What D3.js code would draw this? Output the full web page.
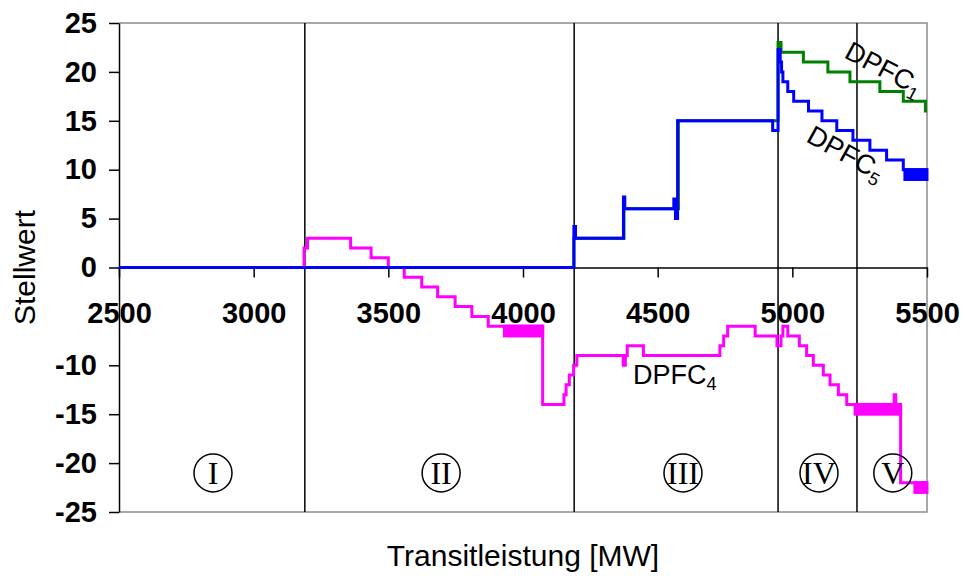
<!DOCTYPE html>
<html>
<head>
<meta charset="utf-8">
<script src="https://cdn.jsdelivr.net/npm/d3@7"></script>
<style>
  html, body { margin: 0; padding: 0; background: #fff; }
  svg { display: block; }
  text { font-family: "Liberation Sans", Arial, sans-serif; }
</style>
</head>
<body>
<svg id="chart" width="963" height="576"></svg>
<script>
// Step series: each point [MW, value] holds until the next point.
const dpfc1 = [[2500,0],[4189,3],[4375,6],[4577,15],[4947,23],[4958,22],[5041,21],[5132,20],[5214,19],[5325,18],[5412,17],[5494,16],[5500,16]];
const dpfc5 = [[2500,0],[4189,4.2],[4195,3],[4373,7.2],[4378,6],[4560,7],[4566,5],[4574,15],[4927,14],[4947,22.3],[4955,21],[4960,20],[4965,19],[4983,18],[5005,17],[5060,16],[5110,15],[5165,14],[5225,13],[5288,12],[5350,11],[5412,10],[5500,10]];
const dpfc4 = [[2500,0],[3187,2],[3200,3],[3360,2],[3436,1],[3500,0],[3559,-1],[3624,-2],[3683,-3],[3748,-4],[3810,-5],[3871,-6],[4073,-14],[4152,-13],[4160,-12],[4172,-11],[4188,-10],[4200,-9],[4372,-10],[4380,-9],[4387,-8],[4447,-9],[4731,-8],[4745,-7],[4760,-6],[4862,-7],[4943,-8],[4958,-7],[4965,-6],[4983,-7],[5026,-8],[5053,-9],[5078,-10],[5115,-11],[5140,-12],[5171,-13],[5202,-14],[5378,-13],[5384,-14],[5402,-22],[5500,-22]];

// Ranges where the controller toggles quickly between two settings: [from, to, low, high]
const dpfc5Bands = [[5418,5500,9,10]];
const dpfc4Bands = [[3931,4073,-7,-6],[5233,5402,-15,-14],[5455,5500,-23,-22]];

// Operating regions
const regionBounds = [3190, 4190, 4947, 5240];
const regionNames = ["I", "II", "III", "IV", "V"];
const regionCenters = [2849, 3696, 4594, 5099, 5373];

const xTicks = [2500, 3000, 3500, 4000, 4500, 5000, 5500];
const yTicks = [25, 20, 15, 10, 5, 0, -10, -15, -20, -25];

const svg = d3.select("#chart");
const x = d3.scaleLinear().domain([2500, 5500]).range([119, 927]);
const y = d3.scaleLinear().domain([-25, 25]).range([512, 23]);

// frame (top, right, bottom)
svg.append("path")
  .attr("d", `M${x(2500)},${y(25)}H${x(5500)}V${y(-25)}H${x(2500)}`)
  .attr("fill", "none").attr("stroke", "#8c8c8c").attr("stroke-width", 1.5);

// region separators
svg.selectAll("line.region").data(regionBounds).join("line")
  .attr("class", "region")
  .attr("x1", d => x(d)).attr("x2", d => x(d))
  .attr("y1", y(25)).attr("y2", y(-25))
  .attr("stroke", "#000").attr("stroke-width", 1.5);

// y axis
const yAxis = svg.append("g")
  .attr("transform", `translate(${x(2500)},0)`)
  .call(d3.axisLeft(y).tickValues(yTicks).tickSize(10).tickSizeOuter(0).tickPadding(12).tickFormat(d => String(d)));
yAxis.select(".domain").attr("stroke", "#000").attr("stroke-width", 1.5);
yAxis.selectAll(".tick line").attr("stroke", "#000").attr("stroke-width", 1.5);
yAxis.selectAll(".tick text")
  .attr("font-family", "'Liberation Sans', Arial, sans-serif")
  .attr("font-size", 29).attr("font-weight", "bold").attr("fill", "#000");

// x axis along the zero line
const xAxis = svg.append("g")
  .attr("transform", `translate(0,${y(0)})`)
  .call(d3.axisBottom(x).tickValues(xTicks).tickSize(10).tickSizeOuter(0).tickFormat(d => String(d)));
xAxis.select(".domain").attr("stroke", "#000").attr("stroke-width", 1.5);
xAxis.selectAll(".tick line").attr("stroke", "#000").attr("stroke-width", 1.5);
xAxis.selectAll(".tick text")
  .attr("y", 55.5).attr("dy", 0)
  .attr("font-family", "'Liberation Sans', Arial, sans-serif")
  .attr("font-size", 29).attr("font-weight", "bold").attr("fill", "#000");

// series
const line = d3.line().x(d => x(d[0])).y(d => y(d[1])).curve(d3.curveStepAfter);
function drawSeries(data, bands, color) {
  svg.append("path").datum(data)
    .attr("d", line).attr("fill", "none")
    .attr("stroke", color).attr("stroke-width", 3);
  svg.selectAll(null).data(bands).join("rect")
    .attr("x", d => x(d[0])).attr("width", d => x(d[1]) - x(d[0]))
    .attr("y", d => y(d[3])).attr("height", d => y(d[2]) - y(d[3]))
    .attr("fill", color).attr("stroke", color).attr("stroke-width", 3);
}
drawSeries(dpfc4, dpfc4Bands, "#ff00ff");
drawSeries(dpfc1, [], "#008000");
drawSeries(dpfc5, dpfc5Bands, "#0000ff");

// region markers
const marks = svg.selectAll("g.mark").data(regionNames).join("g")
  .attr("class", "mark")
  .attr("transform", (d, i) => `translate(${x(regionCenters[i])},${y(-21)})`);
marks.append("circle").attr("r", 19).attr("fill", "none").attr("stroke", "#000").attr("stroke-width", 1.5);
marks.append("text")
  .attr("text-anchor", "middle").attr("dy", "0.35em")
  .style("font-family", "'Liberation Serif', 'Times New Roman', serif")
  .attr("font-size", 32).text(d => d);

// series labels
function seriesLabel(px, py, angle, sub) {
  const t = svg.append("text")
    .attr("transform", `translate(${px},${py}) rotate(${angle})`)
    .attr("font-size", 27).attr("fill", "#000");
  t.append("tspan").text("DPFC");
  t.append("tspan").attr("font-size", 18).attr("dy", 6).text(sub);
}
seriesLabel(843, 57, 28, "1");
seriesLabel(805, 141, 29, "5");
seriesLabel(633, 384, 0, "4");

// axis titles
svg.append("text")
  .attr("x", 523).attr("y", 566).attr("text-anchor", "middle")
  .attr("font-size", 30).text("Transitleistung [MW]");
svg.append("text")
  .attr("transform", `translate(35,${y(0)}) rotate(-90)`)
  .attr("text-anchor", "middle")
  .attr("font-size", 30).text("Stellwert");
</script>
</body>
</html>
